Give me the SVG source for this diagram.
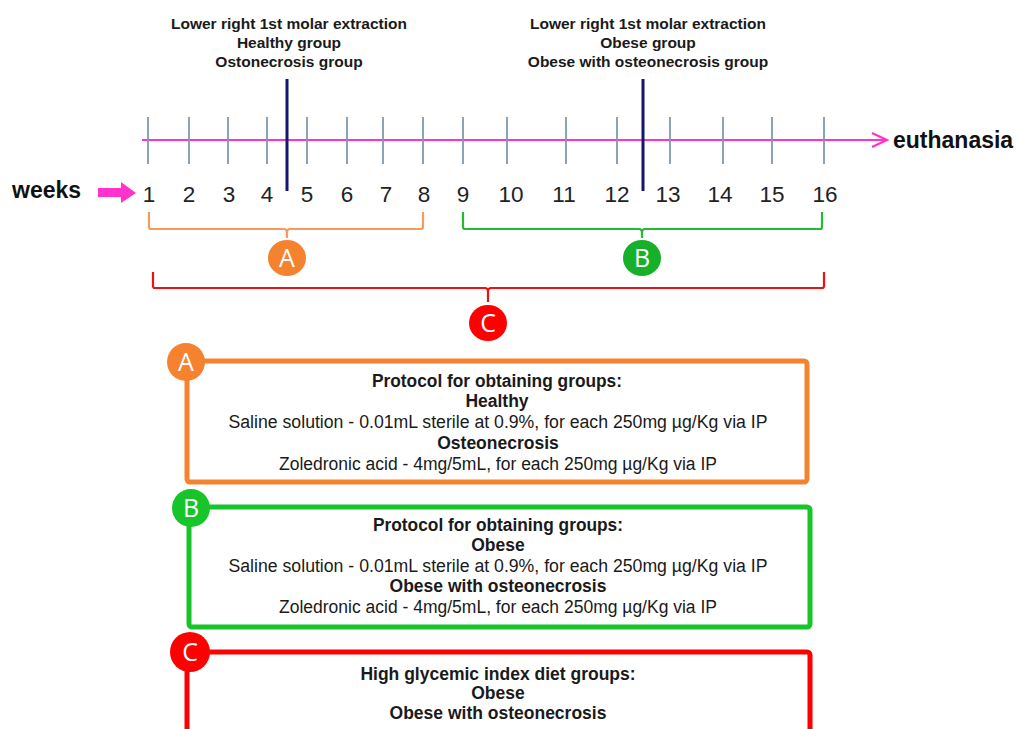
<svg xmlns="http://www.w3.org/2000/svg" width="1017" height="729" viewBox="0 0 1017 729">
<style>
.lbl{font-family:"Liberation Sans",Arial,sans-serif;font-weight:bold;font-size:15.5px;fill:#1a1a1a;text-anchor:middle}
.num{font-family:"Liberation Sans",Arial,sans-serif;font-size:22.5px;fill:#222;text-anchor:middle}
.big{font-family:"Liberation Sans",Arial,sans-serif;font-weight:bold;font-size:23px;fill:#111}
.tick{stroke:#7f99ad;stroke-width:1.8}
.mark{stroke:#15156e;stroke-width:3}
.bt{font-family:"Liberation Sans",Arial,sans-serif;font-size:18px;fill:#1a1a1a;text-anchor:middle}
.bb{font-weight:bold;font-size:17.5px}
.let{font-family:"Open Sans","DejaVu Sans",sans-serif;font-size:25px;fill:#fff;text-anchor:middle}
.box{fill:none;stroke-width:5}
.br{fill:none;stroke-width:2.2;stroke-linejoin:round}
</style>
<rect width="1017" height="729" fill="#ffffff"/>

<g id="event-labels">
<text class="lbl" x="289" y="29">Lower right 1st molar extraction</text>
<text class="lbl" x="289" y="48">Healthy group</text>
<text class="lbl" x="289" y="67">Ostonecrosis group</text>
<text class="lbl" x="648" y="29">Lower right 1st molar extraction</text>
<text class="lbl" x="648" y="48">Obese group</text>
<text class="lbl" x="648" y="67">Obese with osteonecrosis group</text>
</g>

<g id="timeline">
<line x1="142" y1="140" x2="886" y2="140" stroke="#ff33cc" stroke-width="2.2"/>
<polyline points="872,133 887,140 872,147" fill="none" stroke="#ff33cc" stroke-width="2.2"/>
<g class="tick">
<line x1="148" y1="117" x2="148" y2="164"/>
<line x1="189" y1="117" x2="189" y2="164"/>
<line x1="228" y1="117" x2="228" y2="164"/>
<line x1="267" y1="117" x2="267" y2="164"/>
<line x1="307" y1="117" x2="307" y2="164"/>
<line x1="347" y1="117" x2="347" y2="164"/>
<line x1="383" y1="117" x2="383" y2="164"/>
<line x1="423" y1="117" x2="423" y2="164"/>
<line x1="463" y1="117" x2="463" y2="164"/>
<line x1="507" y1="117" x2="507" y2="164"/>
<line x1="566" y1="117" x2="566" y2="164"/>
<line x1="617" y1="117" x2="617" y2="164"/>
<line x1="670" y1="117" x2="670" y2="164"/>
<line x1="723" y1="117" x2="723" y2="164"/>
<line x1="772" y1="117" x2="772" y2="164"/>
<line x1="824" y1="117" x2="824" y2="164"/>
</g>
<line class="mark" x1="287" y1="79" x2="287" y2="191"/>
<line class="mark" x1="643" y1="79" x2="643" y2="191"/>
<text class="big" x="893" y="148" font-size="24">euthanasia</text>
</g>

<g id="weeks">
<text class="big" x="12" y="198" font-size="24">weeks</text>
<polygon points="98,188 121,188 121,182 136,193 121,203 121,197 98,197" fill="#ff33cc"/>
<text class="num" x="149" y="202">1</text>
<text class="num" x="189" y="202">2</text>
<text class="num" x="229" y="202">3</text>
<text class="num" x="267" y="202">4</text>
<text class="num" x="307" y="202">5</text>
<text class="num" x="347" y="202">6</text>
<text class="num" x="386" y="202">7</text>
<text class="num" x="424" y="202">8</text>
<text class="num" x="463" y="202">9</text>
<text class="num" x="511" y="202">10</text>
<text class="num" x="564" y="202">11</text>
<text class="num" x="617" y="202">12</text>
<text class="num" x="668" y="202">13</text>
<text class="num" x="720" y="202">14</text>
<text class="num" x="772" y="202">15</text>
<text class="num" x="825" y="202">16</text>
</g>

<g id="connectors">
<path class="br" stroke="#f79a5e" d="M149,212 V227 Q149,229 151,229 H284 Q287,229 287,233 V238 M287,233 Q287,229 290,229 H421 Q423,229 423,227 V212"/>
<path class="br" stroke="#22bb33" d="M463,212 V227 Q463,229 465,229 H639 Q642,229 642,233 V238 M642,233 Q642,229 645,229 H820 Q822,229 822,227 V212"/>
<path class="br" stroke="#ee1111" d="M153,272 V286 Q153,288 155,288 H485 Q488,288 488,292 V302 M488,292 Q488,288 491,288 H822 Q824,288 824,286 V272"/>
</g>

<g id="marker-A">
<ellipse cx="287" cy="258" rx="19" ry="18" fill="#f5822f"/>
<text class="let" x="287" y="267">A</text>
</g>
<g id="marker-B">
<ellipse cx="642" cy="258" rx="19" ry="18" fill="#17b02a"/>
<text class="let" x="642" y="267">B</text>
</g>
<g id="marker-C">
<ellipse cx="488" cy="323" rx="19" ry="18" fill="#ff0000"/>
<text class="let" x="488" y="332">C</text>
</g>

<g id="box-A">
<rect class="box" x="187" y="361" width="620" height="121" rx="3" stroke="#f5822f"/>
<circle cx="186" cy="362" r="19" fill="#f5822f"/>
<text class="let" x="186" y="371">A</text>
<text class="bt bb" x="497" y="387" textLength="250" lengthAdjust="spacingAndGlyphs">Protocol for obtaining  groups:</text>
<text class="bt bb" x="497" y="407">Healthy</text>
<text class="bt" x="498" y="428" textLength="539" lengthAdjust="spacingAndGlyphs">Saline solution - 0.01mL sterile at 0.9%, for each 250mg µg/Kg via IP</text>
<text class="bt bb" x="498" y="449">Osteonecrosis</text>
<text class="bt" x="498" y="470" textLength="438" lengthAdjust="spacingAndGlyphs">Zoledronic acid - 4mg/5mL, for each 250mg µg/Kg via IP</text>
</g>

<g id="box-B">
<rect class="box" x="189" y="507" width="621" height="120" rx="3" stroke="#17c42a"/>
<circle cx="191" cy="508" r="19" fill="#17c42a"/>
<text class="let" x="191" y="517">B</text>
<text class="bt bb" x="498" y="531" textLength="250" lengthAdjust="spacingAndGlyphs">Protocol for obtaining  groups:</text>
<text class="bt bb" x="498" y="551">Obese</text>
<text class="bt" x="498" y="572" textLength="539" lengthAdjust="spacingAndGlyphs">Saline solution - 0.01mL sterile at 0.9%, for each 250mg µg/Kg via IP</text>
<text class="bt bb" x="498" y="592">Obese with osteonecrosis</text>
<text class="bt" x="498" y="613" textLength="438" lengthAdjust="spacingAndGlyphs">Zoledronic acid - 4mg/5mL, for each 250mg µg/Kg via IP</text>
</g>

<g id="box-C">
<rect class="box" x="187" y="652" width="623" height="100" rx="3" stroke="#ff0000"/>
<circle cx="190" cy="652" r="20" fill="#ff0000"/>
<text class="let" x="190" y="661">C</text>
<text class="bt bb" x="498" y="680">High  glycemic index diet groups:</text>
<text class="bt bb" x="498" y="699">Obese</text>
<text class="bt bb" x="498" y="719">Obese with osteonecrosis</text>
</g>
</svg>
